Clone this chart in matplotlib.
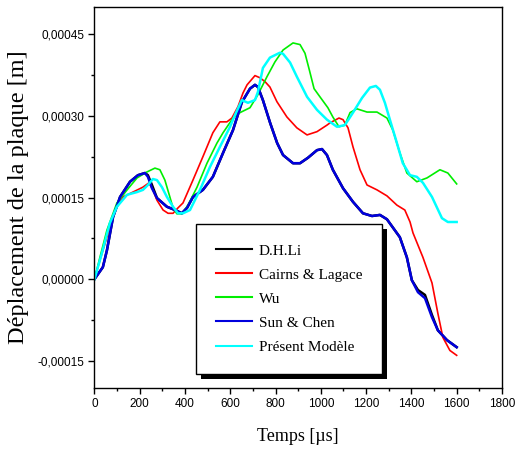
import numpy as np
import matplotlib
matplotlib.use('Agg')
import matplotlib.pyplot as plt
from matplotlib.ticker import MultipleLocator, FuncFormatter
from matplotlib.patches import Rectangle

# temps [us] et deplacement [1e-5 m]
t_li = [0, 37, 55, 82, 113, 157, 192, 223, 236, 254, 276, 320, 356, 386, 409, 435, 479, 523, 568, 612,
        651, 687, 709, 722, 744, 776, 807, 833, 877, 908, 943, 983, 1005, 1027, 1053, 1098, 1142, 1186, 1226, 1261,
        1292, 1349, 1380, 1402, 1429, 1460, 1491, 1517, 1557, 1600]
v_li = [0, 2.2, 5.3, 11.4, 15.1, 17.9, 19.1, 19.5, 19.1, 17.3, 14.9, 13.3, 12.7, 12.1, 13.1, 15.1, 16.4, 18.8, 23.2, 27.4,
        32.5, 35.0, 35.7, 35.3, 32.9, 28.7, 25.0, 22.8, 21.3, 21.3, 22.3, 23.7, 23.9, 22.8, 20.1, 16.7, 14.2, 12.1, 11.6, 11.8,
        11.0, 7.7, 4.0, -0.2, -2.0, -2.9, -6.6, -9.4, -11.2, -12.5]

t_cairns = [0, 24, 55, 91, 126, 170, 214, 241, 258, 276, 303, 325, 347, 369, 391, 435, 479, 523, 554, 585,
            607, 634, 656, 674, 709, 731, 753, 775, 806, 850, 894, 939, 983, 1027, 1040, 1080, 1098, 1120, 1142, 1173,
            1204, 1248, 1292, 1336, 1371, 1394, 1407, 1451, 1491, 1517, 1539, 1570, 1600]
v_cairns = [0, 3.5, 7.7, 12.7, 15.1, 16.0, 16.9, 17.7, 16.4, 14.5, 12.7, 12.1, 12.1, 13.1, 14.0, 18.2, 22.5, 26.9, 28.9, 28.9,
            29.6, 31.7, 34.2, 35.7, 37.4, 37.0, 36.3, 35.3, 32.6, 29.8, 27.8, 26.5, 27.1, 28.3, 28.7, 29.6, 29.3, 27.8, 24.3, 20.1,
            17.3, 16.4, 15.3, 13.6, 12.7, 10.5, 8.5, 4.0, -0.7, -6.3, -10.7, -13.1, -14.0]

t_wu = [0, 24, 55, 99, 144, 188, 232, 267, 289, 311, 333, 347, 364, 386, 413, 453, 497, 541, 568, 612,
        643, 687, 722, 762, 797, 833, 877, 908, 930, 950, 970, 996, 1031, 1053, 1080, 1106, 1129, 1159, 1204, 1248, 1292,
        1318, 1349, 1380, 1424, 1469, 1526, 1561, 1600]
v_wu = [0, 4.0, 9.0, 14.0, 16.4, 18.6, 19.7, 20.4, 20.1, 18.2, 15.1, 13.1, 12.0, 12.0, 13.6, 16.9, 21.3, 25.0, 26.9, 29.6,
        30.6, 31.5, 33.9, 37.2, 39.9, 42.1, 43.4, 43.1, 41.5, 38.3, 35.0, 33.5, 31.5, 29.8, 28.0, 28.3, 30.6, 31.3, 30.7, 30.7, 29.6,
        27.4, 23.2, 19.5, 17.9, 18.6, 20.1, 19.5, 17.5]

t_sun = t_li
v_sun = [0, 2.2, 5.3, 11.4, 15.1, 17.9, 19.1, 19.5, 18.8, 16.7, 14.9, 13.3, 12.7, 12.1, 13.1, 15.1, 16.4, 18.8, 23.2, 27.4,
         32.5, 35.0, 35.7, 35.3, 32.9, 28.7, 25.0, 22.8, 21.3, 21.3, 22.3, 23.7, 23.9, 22.8, 20.1, 16.7, 14.2, 12.1, 11.6, 11.8,
         11.0, 7.7, 4.0, -0.2, -2.4, -3.5, -7.0, -9.4, -11.2, -12.5]

t_present = [0, 33, 68, 99, 144, 188, 214, 236, 258, 276, 298, 320, 347, 369, 391, 422, 466, 510, 554, 599,
             621, 651, 678, 709, 722, 744, 775, 819, 833, 864, 894, 939, 983, 1027, 1071, 1106, 1142, 1182, 1217, 1243,
             1261, 1283, 1305, 1336, 1362, 1394, 1424, 1451, 1491, 1535, 1561, 1600]
v_present = [0, 4.8, 10.3, 13.3, 15.5, 16.0, 16.4, 17.3, 18.4, 18.2, 16.9, 15.1, 13.3, 12.1, 12.1, 12.7, 16.4, 20.6, 24.3, 28.0,
             30.2, 32.9, 32.4, 32.9, 34.4, 38.8, 40.7, 41.6, 41.4, 39.8, 37.2, 33.5, 31.1, 29.3, 28.0, 28.3, 30.6, 33.3, 35.2, 35.5,
             34.8, 32.4, 29.3, 25.0, 21.3, 19.1, 18.8, 17.7, 15.1, 11.2, 10.5, 10.5]

series = [
    ('D.H.Li', t_li, v_li, 'black', 1.8),
    ('Cairns & Lagace', t_cairns, v_cairns, 'red', 1.2),
    ('Wu', t_wu, v_wu, '#00ee00', 1.2),
    ('Sun & Chen', t_sun, v_sun, '#0000dd', 1.8),
    ('Présent Modèle', t_present, v_present, 'cyan', 1.8),
]

serif = 'Liberation Serif'
sans = 'Liberation Sans'

fig = plt.figure(figsize=(5.18, 4.5), dpi=100)
ax = fig.add_axes([0.1824, 0.1378, 0.7866, 0.8466])

for name, t, v, c, lw in series:
    ax.plot(t, np.array(v) * 1e-5, color=c, lw=lw, label=name)

ax.set_xlim(0, 1800)
ax.set_ylim(-0.0002, 0.0005)
ax.xaxis.set_major_locator(MultipleLocator(200))
ax.xaxis.set_minor_locator(MultipleLocator(100))
ax.yaxis.set_major_locator(MultipleLocator(0.00015))
ax.yaxis.set_minor_locator(MultipleLocator(0.000075))
ax.yaxis.set_major_formatter(FuncFormatter(lambda y, p: ('%.5f' % y).replace('.', ',').replace('-0,00000', '0,00000')))
ax.tick_params(which='major', direction='out', length=4, width=1, labelsize=8.5)
ax.tick_params(which='minor', direction='out', length=2.5, width=1)
for lab in ax.get_xticklabels() + ax.get_yticklabels():
    lab.set_family(sans)
for s in ax.spines.values():
    s.set_linewidth(1.0)

ax.set_xlabel('Temps [µs]', family=serif, fontsize=13, labelpad=13)
ax.set_ylabel('Déplacement de la plaque [m]', family=serif, fontsize=17.5, labelpad=6)

leg = ax.legend(loc='upper left', bbox_to_anchor=(0.249, 0.4304), borderaxespad=0,
                fancybox=False, edgecolor='black', framealpha=1,
                prop={'family': serif, 'size': 11}, borderpad=1.3, handlelength=2.4,
                handletextpad=0.4, labelspacing=0.68)
leg.get_frame().set_linewidth(1.0)
for line in leg.get_lines():
    line.set_linewidth(1.5)

# ombre du cadre de legende
fig.canvas.draw()
bb = leg.get_window_extent().transformed(ax.transAxes.inverted())
ax.add_patch(Rectangle((bb.x0 + 0.0123, bb.y0 - 0.0131), bb.width, bb.height, transform=ax.transAxes,
                       facecolor='black', edgecolor='none', zorder=4.9, clip_on=False))

plt.savefig('out.png', dpi=100)
